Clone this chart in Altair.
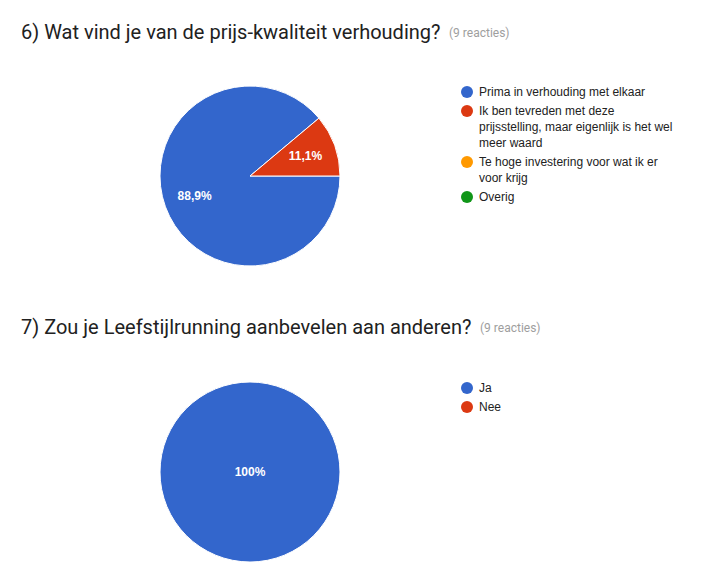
import math
import altair as alt
import pandas as pd

# ---- data ----
q6_categories = [
    "Prima in verhouding met elkaar",
    "Ik ben tevreden met deze|prijsstelling, maar eigenlijk is het wel|meer waard",
    "Te hoge investering voor wat ik er|voor krijg",
    "Overig",
]
q6_counts = [8, 1, 0, 0]
q7_categories = ["Ja", "Nee"]
q7_counts = [9, 0]
q6_title = "6) Wat vind je van de prijs-kwaliteit verhouding?"
q7_title = "7) Zou je Leefstijlrunning aanbevelen aan anderen?"
responses_note = "(9 reacties)"

google_colors = ["#3366CC", "#DC3912", "#FF9900", "#109618"]

LABEL_FONT = "Liberation Sans"
TITLE_FONT = "Roboto"

df6 = pd.DataFrame({"cat": q6_categories, "n": q6_counts, "idx": range(len(q6_categories))})
df7 = pd.DataFrame({"cat": q7_categories, "n": q7_counts, "idx": range(len(q7_categories))})

theta_range = [math.pi / 2, math.pi / 2 + 2 * math.pi]


def pie(df, cats, cx, cy, legend_x, legend_y):
    base = alt.Chart(df).transform_filter("datum.n > 0").transform_joinaggregate(
        total="sum(n)"
    ).transform_calculate(
        pct="replace(format(datum.n / datum.total * 100, '.3~r'), '.', ',') + '%'",
        r="datum.n == datum.total ? 0 : 59",
    )
    arc = base.mark_arc(outerRadius=90, stroke="white", strokeWidth=1).encode(
        theta=alt.Theta("n:Q", stack=True, scale=alt.Scale(range=theta_range)),
        color=alt.Color(
            "cat:N",
            scale=alt.Scale(domain=cats, range=google_colors[: len(cats)]),
            legend=alt.Legend(
                orient="none",
                legendX=legend_x,
                legendY=legend_y,
                title=None,
                symbolType="circle",
                symbolSize=144,
                symbolStrokeWidth=0,
                symbolOpacity=1,
                labelFont=LABEL_FONT,
                labelFontSize=12,
                labelColor="#222222",
                labelLimit=400,
                labelOffset=6,
                rowPadding=7,
                padding=0,
                labelExpr="split(datum.label, '|')",
            ),
        ),
        order=alt.Order("idx:Q"),
        x=alt.value(cx),
        y=alt.value(cy),
    )
    txt = base.mark_text(
        font=LABEL_FONT, fontSize=12, fontWeight="bold", color="white"
    ).encode(
        theta=alt.Theta("n:Q", stack=True, scale=alt.Scale(range=theta_range)),
        radius=alt.Radius("r:Q", scale=None),
        detail="cat:N",
        order=alt.Order("idx:Q"),
        text="pct:N",
        x=alt.value(cx),
        y=alt.value(cy),
    )
    return alt.layer(arc, txt)


def title_marks(title, y, note_x):
    d = alt.Data(values=[{"a": 1}])
    t = alt.Chart(d).mark_text(
        font=TITLE_FONT, fontSize=20, color="#212121", align="left", baseline="middle"
    ).encode(x=alt.value(21), y=alt.value(y), text=alt.value(title))
    n = alt.Chart(d).mark_text(
        font=TITLE_FONT, fontSize=12, color="#9e9e9e", align="left", baseline="middle"
    ).encode(x=alt.value(note_x), y=alt.value(y), text=alt.value(responses_note))
    return alt.layer(t, n)


p6 = pie(df6, q6_categories, 250, 176, 461, 86)
p7 = pie(df7, q7_categories, 250, 472, 461, 382)

chart = alt.layer(
    p6, p7, title_marks(q6_title, 33, 449), title_marks(q7_title, 328, 480)
).resolve_scale(color="independent", theta="independent").properties(
    width=710, height=573, padding=0, autosize=alt.AutoSizeParams(type="none")
).configure(style={"guide-label": {"lineHeight": 16}}).configure_view(stroke=None)

chart.save("out.html", embed_options={"renderer": "svg", "actions": False})
